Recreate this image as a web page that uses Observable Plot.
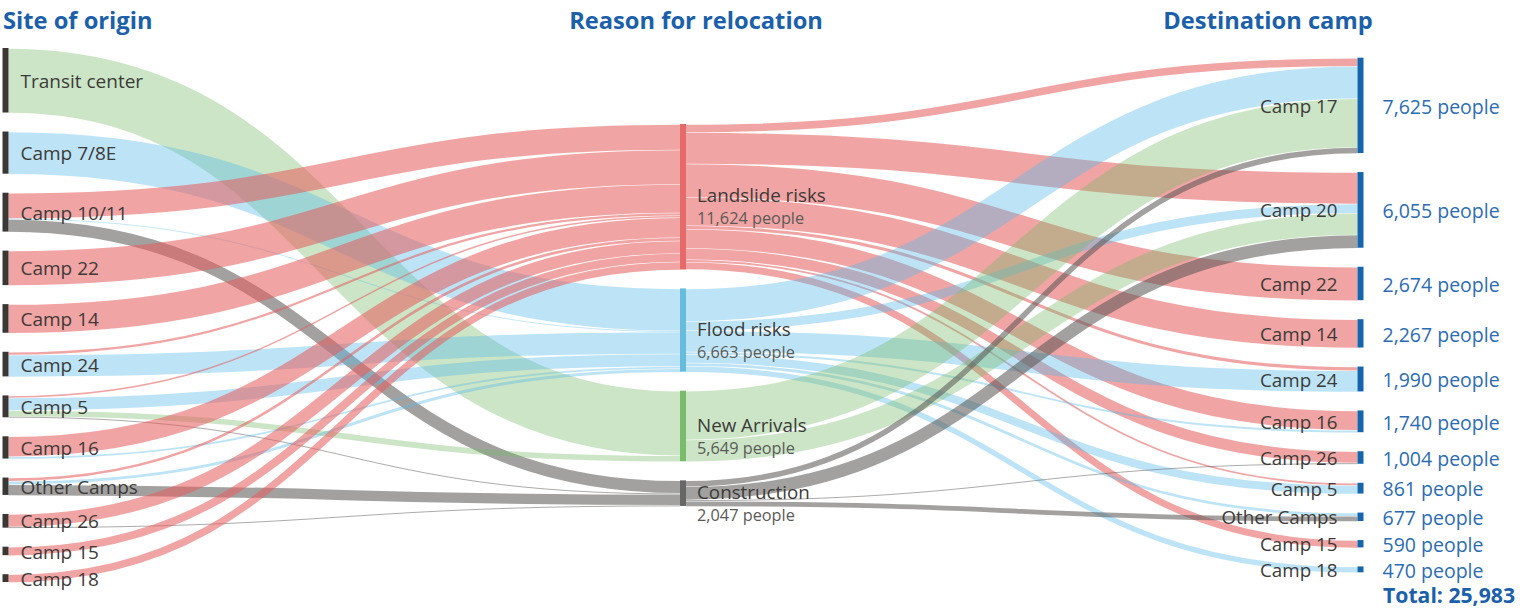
<!DOCTYPE html>
<html><head><meta charset="utf-8">
<script src="https://cdn.jsdelivr.net/npm/d3@7"></script>
<script src="https://cdn.jsdelivr.net/npm/@observablehq/plot@0.6"></script>
<style>
body{margin:0;background:#fff;font-family:"Open Sans","Noto Sans",sans-serif;}
#wrap{position:relative;width:1534px;height:609px;overflow:hidden;}
.title{position:absolute;top:4px;font-weight:700;font-size:23.7px;color:#1a60aa;white-space:nowrap;}
#chart{position:absolute;left:0;top:40px;}
#total{position:absolute;left:1383px;top:584px;line-height:21px;font-weight:700;font-size:21.2px;color:#1a60aa;white-space:nowrap;}
</style></head>
<body><div id="wrap">
<div class="title" style="left:3px">Site of origin</div>
<div class="title" style="left:696px;transform:translateX(-50%)">Reason for relocation</div>
<div class="title" style="left:1268px;transform:translateX(-50%)">Destination camp</div>
<div id="chart"></div>
<div id="total">Total: 25,983</div>
</div>
<script>
// ---- data ----
const origins = ["Transit center","Camp 7/8E","Camp 10/11","Camp 22","Camp 14","Camp 24","Camp 5","Camp 16","Other Camps","Camp 26","Camp 15","Camp 18"];
const reasons = ["Landslide risks","Flood risks","New Arrivals","Construction"];
const reasonTotals = [11624, 6663, 5649, 2047];
const destinations = ["Camp 17","Camp 20","Camp 22","Camp 14","Camp 24","Camp 16","Camp 26","Camp 5","Other Camps","Camp 15","Camp 18"];
const destinationTotals = [7625, 6055, 2674, 2267, 1990, 1740, 1004, 861, 677, 590, 470];

// origin -> reason (aligned with origins)
const originToLandslide    = [0, 0, 2030, 2760, 2290, 220, 160, 1600, 250, 1010, 680, 624];
const originToFlood        = [0, 3373, 80, 0, 0, 1750, 1000, 180, 280, 0, 0, 0];
const originToNewArrivals  = [5160, 0, 0, 0, 0, 0, 489, 0, 0, 0, 0, 0];
const originToConstruction = [0, 0, 1000, 0, 0, 0, 100, 0, 860, 87, 0, 0];

// reason -> destination (aligned with destinations)
const landslideToDestination    = [640, 2508, 2674, 2267, 290, 1540, 904, 181, 0, 590, 0];
const floodToDestination        = [2600, 753, 0, 0, 1700, 200, 0, 680, 260, 0, 470];
const newArrivalsToDestination  = [3905, 1744, 0, 0, 0, 0, 0, 0, 0, 0, 0];
const constructionToDestination = [480, 1050, 0, 0, 0, 0, 100, 0, 417, 0, 0];

// ---- styling / layout config ----
const linkColors = ["#e65c5c", "#5bbbe8", "#77bb6a", "#5a5856"];
const linkOpacity = [0.56, 0.4, 0.38, 0.56];
const reasonBarColors = ["#e76a6a", "#67bcdc", "#79bd6c", "#676767"];
const W = 1534, H = 545, mT = 8, mB = 3, mL = 5, mR = 174;
const gapPeople = 1521;

const originFlows = [originToLandslide, originToFlood, originToNewArrivals, originToConstruction];
const destinationFlows = [landslideToDestination, floodToDestination, newArrivalsToDestination, constructionToDestination];

const originTotals = origins.map((_, i) => d3.sum(originFlows, f => f[i]));
const columns = [originTotals, reasonTotals, destinationTotals];
const ext = d3.max(columns, c => d3.sum(c) + (c.length - 1) * gapPeople);
const k = (H - mT - mB) / ext;

function place(values, names, col) {
  const span = d3.sum(values) + (values.length - 1) * gapPeople;
  let y = (ext - span) / 2;
  return values.map((v, i) => { const n = {y0: y, y1: y + v, name: names[i], value: v, col, idx: i}; y += v + gapPeople; return n; });
}
const originNodes = place(originTotals, origins, 0);
const reasonNodes = place(reasonTotals, reasons, 1);
const destNodes = place(destinationTotals, destinations, 2);

const barHalf = 3 / ((W - mL - mR) / 2);
const links = [];
const reasonIn = reasonNodes.map(n => n.y0);
originNodes.forEach((o, i) => {
  let sy = o.y0;
  reasons.forEach((_, j) => {
    const v = originFlows[j][i];
    if (!v) return;
    links.push({x1: 0 + barHalf, x2: 1 - barHalf, y1: sy + v / 2, y2: reasonIn[j] + v / 2, v, reason: j});
    sy += v; reasonIn[j] += v;
  });
});
const destIn = destNodes.map(n => n.y0);
reasonNodes.forEach((r, j) => {
  let sy = r.y0;
  destinations.forEach((_, d) => {
    const v = destinationFlows[j][d];
    if (!v) return;
    links.push({x1: 1 + barHalf, x2: 2 - barHalf, y1: sy + v / 2, y2: destIn[d] + v / 2, v, reason: j});
    sy += v; destIn[d] += v;
  });
});

const fmt = d3.format(",");
const mid = d => (d.y0 + d.y1) / 2;

const plot = Plot.plot({
  width: W, height: H, marginTop: mT, marginBottom: mB, marginLeft: mL, marginRight: mR,
  x: {domain: [0, 2], axis: null},
  y: {domain: [0, ext], reverse: true, axis: null},
  style: {fontFamily: "'Open Sans', 'Noto Sans', sans-serif", background: "transparent", overflow: "visible"},
  marks: [
    Plot.link(links, {
      x1: "x1", y1: "y1", x2: "x2", y2: "y2", curve: "bump-x",
      stroke: d => linkColors[d.reason],
      strokeOpacity: d => linkOpacity[d.reason],
      strokeWidth: d => Math.max(0.9, d.v * k - 0.5)
    }),
    Plot.ruleX(originNodes, {x: "col", y1: "y0", y2: "y1", stroke: "#3b3735", strokeWidth: 6}),
    Plot.ruleX(reasonNodes, {x: "col", y1: "y0", y2: "y1", stroke: d => reasonBarColors[d.idx], strokeWidth: 6}),
    Plot.ruleX(destNodes, {x: "col", y1: "y0", y2: "y1", stroke: "#1565ad", strokeWidth: 6}),
    Plot.text(originNodes, {x: "col", y: mid, text: "name", textAnchor: "start", dx: 15, dy: 1, fontSize: 19, fill: "#3c3a38"}),
    Plot.text(reasonNodes, {x: "col", y: mid, text: "name", textAnchor: "start", dx: 14, dy: -1, fontSize: 18.8, fill: "#3c3a38"}),
    Plot.text(reasonNodes, {x: "col", y: mid, text: d => fmt(d.value) + " people", textAnchor: "start", dx: 14, dy: 22, fontSize: 16.3, fill: "#5c5a58"}),
    Plot.text(destNodes, {x: "col", y: mid, text: "name", textAnchor: "end", dx: -23, dy: 1, fontSize: 18.8, fill: "#3c3a38"}),
    Plot.text(destNodes, {x: "col", y: mid, text: d => fmt(d.value) + " people", textAnchor: "start", dx: 22, dy: 1.5, fontSize: 19.5, fill: "#2b6cb3", ariaLabel: "destination value"})
  ]
});

d3.select(plot).selectAll('g[aria-label="destination value"] text').each(function () {
  const t = this.textContent; const i = t.indexOf(" ");
  this.textContent = "";
  d3.select(this).append("tspan").attr("font-size", 21.5).text(t.slice(0, i));
  d3.select(this).append("tspan").attr("font-size", 19.3).text(t.slice(i));
});

document.getElementById("chart").appendChild(plot);
</script>
</body></html>
